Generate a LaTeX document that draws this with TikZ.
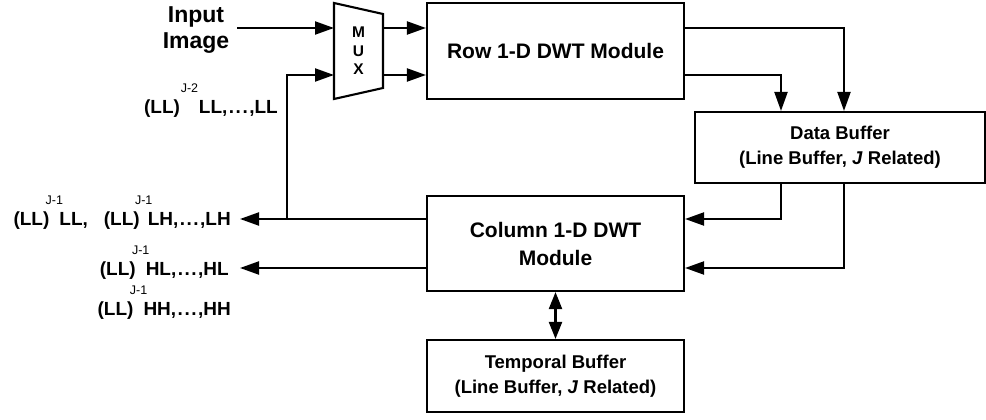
\documentclass[tikz,border=0pt]{standalone}
\usepackage{fontspec}
\setmainfont{Liberation Sans}
\usepackage{tikz}
\usetikzlibrary{positioning,arrows.meta}

\newcommand{\jpow}[2][10pt]{\makebox[#1][c]{\raisebox{21pt}{\fontsize{12.5}{12.5}\mdseries\selectfont #2}}}
\newcommand{\dts}{,\kern1.5pt.\kern1.5pt.\kern1.5pt.\kern1.5pt,}

\tikzset{
	block/.style={draw, line width=2.1pt, align=center, inner sep=0pt, font=\bfseries\fontsize{21}{28}\selectfont},
	buf/.style={block, font=\bfseries\fontsize{18.5}{25}\selectfont},
	lbl/.style={inner sep=0pt, font=\bfseries\fontsize{19}{22}\selectfont},
	wire/.style={line width=2.1pt},
	arr/.style={wire, -{Triangle[length=19pt,width=13pt]}},
}

\begin{document}
\begin{tikzpicture}[x=1pt,y=1pt]
	\useasboundingbox (0,0) rectangle (986,420);
	\node[align=center, inner sep=8pt, font=\bfseries\fontsize{23}{26}\selectfont] (inp) at (196,390) {Input\\Image};
	\draw[wire] (334,417) -- (383,406) -- (383,332) -- (334,321) -- cycle;
	\node[align=center, inner sep=0pt, font=\bfseries\fontsize{15.5}{18.5}\selectfont] (mux) at (358.5,369) {M\\U\\X};
	\coordinate (muxa) at (334,392);
	\coordinate (muxb) at (334,345);
	\coordinate (muxc) at (383,392);
	\coordinate (muxd) at (383,345);
	\node[block, minimum width=257pt, minimum height=96pt] (row) at (555.5,369) {Row 1-D DWT Module};
	\node[buf, minimum width=290pt, minimum height=71pt] (data) at (840,272.5) {Data Buffer\\(Line Buffer, \textit{J} Related)};
	\node[block, minimum width=257pt, minimum height=95pt] (col) at (555.5,176.5) {Column 1-D DWT\\Module};
	\node[buf, minimum width=257pt, minimum height=72pt] (temp) at (555.5,44) {Temporal Buffer\\(Line Buffer, \textit{J} Related)};
	\coordinate (dx1) at (781,0);
	\coordinate (dx2) at (844,0);
	\coordinate (o1) at (240,201);
	\coordinate (o2) at (240,152);
	\coordinate (jn) at (287,201);
	\node[lbl, anchor=base east] (ll2) at (278,306) {(LL)\jpow[19pt]{J-2}LL\dts LL};
	\node[lbl, anchor=base east] (ll1) at (231,194) {(LL)\jpow{J-1}LL,\hspace{16pt}(LL)\jpow[8pt]{J-1}LH\dts LH};
	\node[lbl, anchor=base east] (hl) at (229,144) {(LL)\jpow{J-1}HL\dts HL};
	\node[lbl, anchor=base east] (hh) at (231,104) {(LL)\jpow{J-1}HH\dts HH};
	\draw[arr] (inp.east |- muxa) -- (muxa);
	\draw[arr] (jn) |- (muxb);
	\draw[arr] (muxc) -- (row.west |- muxc);
	\draw[arr] (muxd) -- (row.west |- muxd);
	\draw[arr] (row.east |- muxc) -| (dx2 |- data.north);
	\draw[arr] (row.east |- muxd) -| (dx1 |- data.north);
	\draw[arr] (dx1 |- data.south) |- (col.east |- o1);
	\draw[arr] (dx2 |- data.south) |- (col.east |- o2);
	\draw[arr] (col.west |- o1) -- (o1);
	\draw[arr] (col.west |- o2) -- (o2);
	\draw[wire, {Triangle[length=17pt,width=13pt]}-{Triangle[length=17pt,width=13pt]}] (col.south) -- (temp.north);
\end{tikzpicture}
\end{document}
